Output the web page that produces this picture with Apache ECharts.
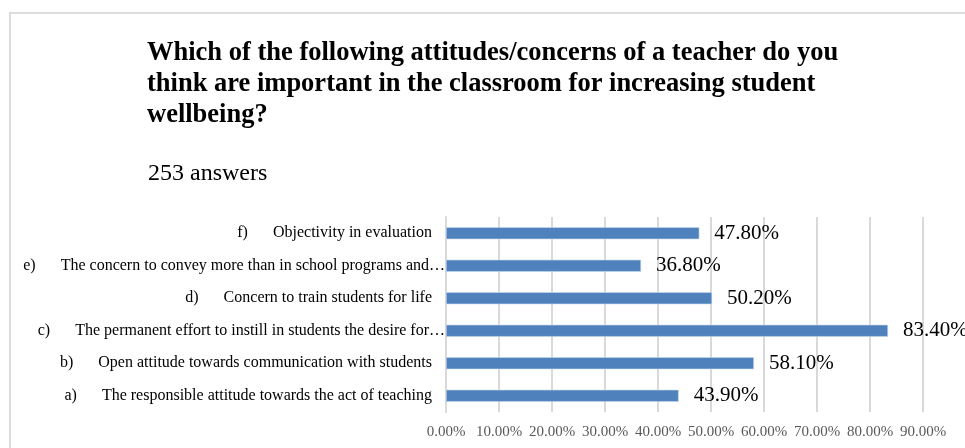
<!DOCTYPE html>
<html>
<head>
<meta charset="utf-8">
<script src="https://cdn.jsdelivr.net/npm/echarts@6/dist/echarts.min.js"></script>
<style>
  html, body { margin: 0; padding: 0; background: #fff; }
  #chart { width: 965px; height: 448px; }
</style>
</head>
<body>
<div id="chart"></div>
<script>
// Survey results: share of respondents choosing each teacher attitude/concern
const itemLetters = ['a)', 'b)', 'c)', 'd)', 'e)', 'f)'];
const itemTexts = [
  'The responsible attitude towards the act of teaching',
  'Open attitude towards communication with students',
  'The permanent effort to instill in students the desire for\u2026',
  'Concern to train students for life',
  'The concern to convey more than in school programs and\u2026',
  'Objectivity in evaluation'
];
const percentValues = [43.9, 58.1, 83.4, 50.2, 36.8, 47.8];
const axisTicks = [0, 10, 20, 30, 40, 50, 60, 70, 80, 90];

const serif = '"Liberation Serif", "Times New Roman", serif';

// Category labels: letter, tab-like gap, text; untruncated ones keep a trailing gap
const categoryLabels = itemLetters.map((l, i) => {
  const truncated = itemTexts[i].endsWith('\u2026');
  return '{l|' + l + '}{t|' + itemTexts[i] + '}' + (truncated ? '' : '{s| }');
});

const chart = echarts.init(document.getElementById('chart'), null, { renderer: 'canvas' });

chart.setOption({
  backgroundColor: '#ffffff',
  animation: false,
  title: [
    {
      text: 'Which of the following attitudes/concerns of a teacher do you\nthink are important in the classroom for increasing student\nwellbeing?',
      left: 142,
      top: 33,
      textStyle: {
        fontFamily: serif,
        fontSize: 26.5,
        fontWeight: 'bold',
        color: '#000000',
        lineHeight: 31
      }
    },
    {
      text: '253 answers',
      left: 143,
      top: 157,
      textStyle: {
        fontFamily: serif,
        fontSize: 24,
        fontWeight: 'normal',
        color: '#000000'
      }
    }
  ],
  graphic: [
    {
      type: 'rect',
      silent: true,
      shape: { x: 10, y: 13, width: 1000, height: 500 },
      style: { fill: 'none', stroke: '#dcdcdc', lineWidth: 2 }
    }
  ],
  grid: {
    left: 446,
    right: 42,
    top: 217,
    bottom: 36,
    containLabel: false
  },
  xAxis: {
    type: 'value',
    min: axisTicks[0],
    max: axisTicks[axisTicks.length - 1],
    interval: axisTicks[1] - axisTicks[0],
    axisLine: { show: false },
    axisTick: { show: false },
    splitLine: { show: true, lineStyle: { color: '#d9d9d9', width: 2 } },
    axisLabel: {
      margin: 13,
      fontFamily: serif,
      fontSize: 15,
      color: '#595959',
      formatter: v => v.toFixed(2) + '%'
    }
  },
  yAxis: {
    type: 'category',
    data: categoryLabels,
    axisLine: { show: true, lineStyle: { color: '#d9d9d9', width: 2 } },
    axisTick: { show: false },
    splitLine: { show: false },
    axisLabel: {
      margin: 1,
      fontFamily: serif,
      fontSize: 16,
      color: '#000000',
      rich: {
        l: { fontFamily: serif, fontSize: 16, color: '#000000' },
        t: { fontFamily: serif, fontSize: 16, color: '#000000', padding: [0, 0, 0, 25] },
        s: { fontFamily: serif, fontSize: 16, width: 13 }
      }
    }
  },
  series: [
    {
      type: 'bar',
      data: percentValues,
      barWidth: 12,
      itemStyle: { color: '#4f81bd', borderColor: '#c5d6ec', borderWidth: 0.6 },
      label: {
        show: true,
        position: 'right',
        distance: 15,
        fontFamily: serif,
        fontSize: 21,
        color: '#000000',
        formatter: p => p.value.toFixed(2) + '%'
      }
    }
  ]
});
</script>
</body>
</html>
